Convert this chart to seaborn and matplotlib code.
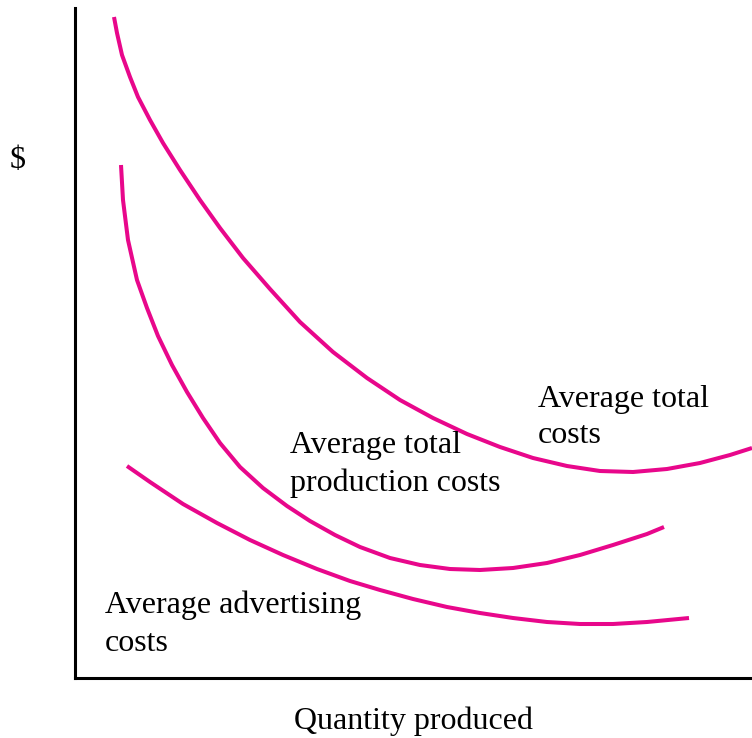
import matplotlib
matplotlib.use("Agg")
import matplotlib.pyplot as plt
import seaborn as sns
import pandas as pd

sns.set_style("white")
plt.rcParams["font.family"] = ["Liberation Serif", "DejaVu Serif"]
plt.rcParams["text.color"] = "black"

# Average total costs (quantity, $)
atc_q = [39, 42, 47, 55, 63, 75, 88, 105, 125, 145, 168, 195, 225, 258, 292, 325,
         358, 392, 425, 458, 492, 525, 558, 592, 625, 655, 677]
atc_c = [661, 645, 623, 601, 581, 558, 535, 508, 478, 450, 420, 389, 356, 326, 300, 278,
         260, 244, 231, 220, 212, 207, 206, 209, 215, 223, 230]

# Average total production costs
atpc_q = [46, 48, 53, 62, 72, 83, 97, 112, 128, 145, 165, 188, 212, 235, 260, 285,
          315, 345, 375, 405, 438, 472, 505, 538, 572, 589]
atpc_c = [513, 478, 438, 398, 370, 342, 313, 286, 260, 235, 211, 190, 172, 157, 143, 131,
          120, 113, 109, 108, 110, 115, 123, 133, 144, 151]

# Average advertising costs
adv_q = [52, 75, 108, 142, 175, 208, 242, 275, 305, 338, 372, 405, 438, 472, 505, 538,
         572, 614]
adv_c = [212, 196, 174, 155, 138, 123, 109, 97, 88, 79, 71, 65, 60, 56, 54, 54,
         56, 60]

frames = []
for name, q, c in [("atc", atc_q, atc_c), ("atpc", atpc_q, atpc_c), ("adv", adv_q, adv_c)]:
    frames.append(pd.DataFrame({"quantity": q, "cost": c, "curve": name}))
df = pd.concat(frames, ignore_index=True)

magenta = "#E8078B"

fig = plt.figure(figsize=(7.52, 7.38), dpi=100)
ax = fig.add_axes([75 / 752, 60 / 738, 677 / 752, 670 / 738])

for name in ["atc", "atpc", "adv"]:
    sub = df[df["curve"] == name]
    sns.lineplot(data=sub, x="quantity", y="cost", ax=ax, color=magenta,
                 linewidth=2.9, sort=False, estimator=None, legend=False,
                 solid_joinstyle="round", solid_capstyle="butt")

ax.set_xlim(0, 677)
ax.set_ylim(0, 670)
ax.set_xticks([])
ax.set_yticks([])
ax.set_xlabel("")
ax.set_ylabel("")
for side in ["top", "right"]:
    ax.spines[side].set_visible(False)
for side in ["left", "bottom"]:
    ax.spines[side].set_color("black")
    ax.spines[side].set_linewidth(2.2)

fs = 23
labels = [
    (463, 271, "Average total"),
    (463, 235, "costs"),
    (215, 225, "Average total"),
    (215, 187, "production costs"),
    (30, 65, "Average advertising"),
    (30, 27, "costs"),
]
for x, y, s in labels:
    ax.text(x, y, s, fontsize=fs, ha="left", va="baseline", color="black")

fig.text(18 / 752, 1 - 161 / 738, "$", fontsize=fs, ha="center", va="center")
fig.text(414 / 752, 1 - 721 / 738, "Quantity produced", fontsize=fs, ha="center", va="center")

fig.savefig("out.png", dpi=100)
